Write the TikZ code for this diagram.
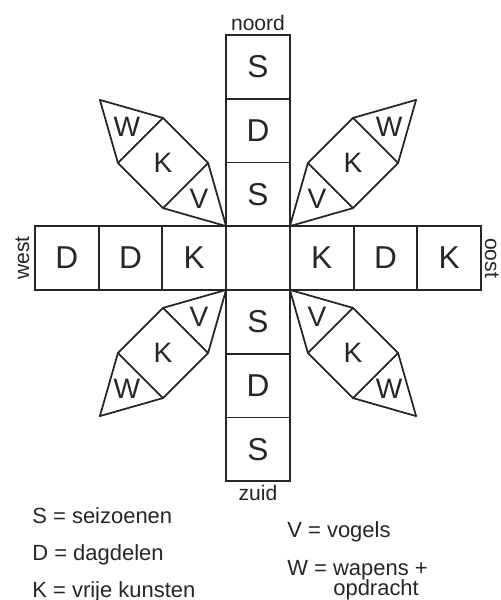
\documentclass[tikz,border=0pt]{standalone}
\usepackage{fontspec}
\setmainfont{Liberation Sans}
\usetikzlibrary{positioning,calc}
\colorlet{ink}{black!85}
\tikzset{
  cell/.style={draw=ink, line width=1pt, minimum size=\u cm, inner sep=0pt, outer sep=0pt,
    text=ink, font=\fontsize{18}{18}\selectfont},
  armtxt/.style={inner sep=0pt, text=ink, font=\fontsize{16}{16}\selectfont},
  lbl/.style={inner sep=0pt, text=ink, font=\fontsize{12}{12}\selectfont},
  legend/.style={anchor=base west, inner sep=0pt, text=ink, font=\fontsize{12.5}{12.5}\selectfont},
  pics/arm/.style={code={
    \draw[ink, line width=1pt, line join=round] (0,0) -- (\h,{\u/2}) -- ({\h+\u},{\u/2}) -- ({2*\h+\u},0)
      -- ({\h+\u},{-\u/2}) -- (\h,{-\u/2}) -- cycle;
    \draw[ink, line width=1pt] (\h,{\u/2}) -- (\h,{-\u/2});
    \draw[ink, line width=1pt] ({\h+\u},{\u/2}) -- ({\h+\u},{-\u/2});
    \node[armtxt] (-v) at ({2*\h/3},0) {V};
    \node[armtxt] (-k) at ({\h+\u/2},0) {K};
    \node[armtxt] (-w) at ({\h+\u+\h/3},0) {W};
  }}
}

\begin{document}
\begin{tikzpicture}
    \pgfmathsetmacro{\u}{1.275}	%cell size
    \pgfmathsetmacro{\h}{0.9*\u}	%triangle height

    \useasboundingbox (-5.16,-6.84) rectangle (4.86,5.16);

    % centre and the four rows
    \node[cell] (c) at (0,0) {};
    \node[cell, above=0pt of c] (n1) {S};
    \node[cell, above=0pt of n1] (n2) {D};
    \node[cell, above=0pt of n2] (n3) {S};
    \node[cell, below=0pt of c] (s1) {S};
    \node[cell, below=0pt of s1] (s2) {D};
    \node[cell, below=0pt of s2] (s3) {S};
    \node[cell, left=0pt of c] (w1) {K};
    \node[cell, left=0pt of w1] (w2) {D};
    \node[cell, left=0pt of w2] (w3) {D};
    \node[cell, right=0pt of c] (e1) {K};
    \node[cell, right=0pt of e1] (e2) {D};
    \node[cell, right=0pt of e2] (e3) {K};

    % diagonal arms
    \pic[rotate=135] (nw) at (c.north west) {arm};
    \pic[rotate=45] (ne) at (c.north east) {arm};
    \pic[rotate=-135] (sw) at (c.south west) {arm};
    \pic[rotate=-45] (se) at (c.south east) {arm};

    \node[lbl, above=2pt of n3] (noord) {noord};
    \node[lbl, below=2pt of s3] (zuid) {zuid};
    \node[lbl, rotate=90, anchor=south] (west) at ([xshift=-3pt]w3.west) {west};
    \node[lbl, rotate=-90, anchor=south] (oost) at ([xshift=2pt]e3.east) {oost};

    % legend
    \node[legend] (ls) at (-4.52,-5.30) {S = seizoenen};
    \node[legend] (ld) at (-4.52,-6.04) {D = dagdelen};
    \node[legend] (lk) at (-4.52,-6.78) {K = vrije kunsten};
    \node[legend] (lv) at (0.58,-5.58) {V = vogels};
    \node[legend] (lw) at (0.58,-6.34) {W = wapens +};
    \node[legend] (lo) at (1.50,-6.74) {opdracht};
\end{tikzpicture}
\end{document}
